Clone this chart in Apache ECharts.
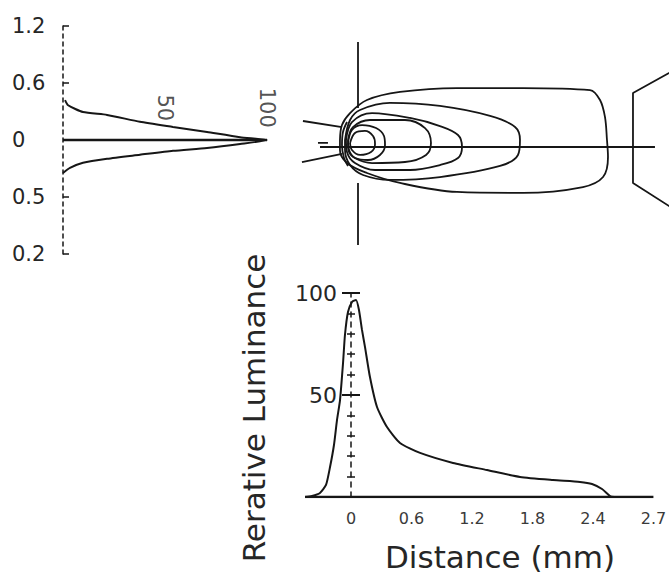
<!DOCTYPE html>
<html>
<head>
<meta charset="utf-8">
<script src="https://cdn.jsdelivr.net/npm/echarts@6/dist/echarts.min.js"></script>
<style>
  html, body { margin: 0; padding: 0; background: #fff; }
  #chart { width: 669px; height: 575px; }
</style>
</head>
<body>
<div id="chart"></div>
<script>
// ---- Vertical luminance profile (left panel): luminance vs. position ----
const profileTickLabels = ['0.2', '0.5', '0', '0.6', '1.2'];
const profileLum = [1, 2.5, 9.8, 21.6, 37.7, 53.9, 70.6, 86.8, 100, 86.8, 70.6, 53.9, 37.7, 21.6, 9.8, 3.4, 0];
const profilePos = [0.70, 0.61, 0.49, 0.44, 0.32, 0.23, 0.14, 0.05, 0, -0.07, -0.14, -0.19, -0.26, -0.33, -0.40, -0.49, -0.58];
const profileAxisLine = [[0, 0], [100, 0]];
const profileMarks = [50, 100];

// ---- Isoluminance contours (top-right panel), distance / offset in mm ----
const contourOuter = [[-0.179, 0.069], [-0.159, 0.218], [-0.079, 0.337], [0.089, 0.466], [0.417, 0.546], [0.982, 0.585], [1.637, 0.585], [2.302, 0.565], [2.401, 0.466], [2.450, 0.298], [2.470, 0.069], [2.480, -0.099], [2.431, -0.298], [2.232, -0.397], [1.637, -0.456], [0.982, -0.446], [0.417, -0.357], [0.089, -0.258], [-0.109, -0.159], [-0.179, -0.030], [-0.179, 0.069]];
const contour2 = [[-0.129, 0.069], [-0.079, 0.268], [0.020, 0.367], [0.317, 0.437], [0.813, 0.407], [1.310, 0.308], [1.558, 0.198], [1.607, 0.069], [1.587, -0.079], [1.409, -0.188], [0.813, -0.298], [0.317, -0.327], [0.050, -0.278], [-0.079, -0.179], [-0.129, -0.030], [-0.129, 0.069]];
const contour3 = [[-0.119, 0.069], [-0.060, 0.248], [0.139, 0.337], [0.516, 0.288], [0.813, 0.208], [0.992, 0.119], [1.032, 0], [0.992, -0.109], [0.813, -0.179], [0.516, -0.228], [0.169, -0.228], [-0.030, -0.159], [-0.109, -0.050], [-0.119, 0.069]];
const contour4 = [[-0.099, 0.069], [-0.050, 0.198], [0.119, 0.268], [0.466, 0.268], [0.665, 0.188], [0.724, 0.040], [0.675, -0.079], [0.466, -0.149], [0.139, -0.159], [-0.030, -0.109], [-0.089, -0.030], [-0.099, 0.069]];
const contour5 = [[-0.099, 0.040], [-0.060, 0.169], [0.040, 0.218], [0.179, 0.188], [0.258, 0.109], [0.268, 0.020], [0.218, -0.079], [0.099, -0.129], [-0.030, -0.109], [-0.089, -0.050], [-0.099, 0.040]];
const contour6 = [[-0.079, 0.040], [-0.030, 0.139], [0.069, 0.159], [0.149, 0.109], [0.169, 0.030], [0.129, -0.050], [0.020, -0.079], [-0.060, -0.030], [-0.079, 0.040]];
const contourEdge = [[-0.109, 0.248], [-0.149, 0.149], [-0.159, 0.020], [-0.139, -0.109], [-0.099, -0.188]];
const mainAxis = [[-0.377, 0], [2.946, 0]];
const crossUpper = [[0, 1.042], [0, 0.387]];
const crossLower = [[0, -0.357], [0, -0.972]];
const rayUpper = [[-0.546, 0.258], [-0.159, 0.198]];
const rayLower = [[-0.556, -0.149], [-0.159, -0.069]];
const rayShort = [[-0.397, 0.040], [-0.298, 0.040]];
const lampOutline = [[3.194, 0.794], [2.728, 0.536], [2.728, -0.357], [3.194, -0.655]];

// ---- Luminance along the axis (bottom panel) ----
const distance = [-0.456, -0.387, -0.308, -0.248, -0.208, -0.169, -0.139, -0.109, -0.079, -0.060, -0.030, 0.010, 0.050, 0.079, 0.109, 0.139, 0.188, 0.258, 0.357, 0.486, 0.685, 1.012, 1.349, 1.677, 2.004, 2.272, 2.391, 2.490, 2.569, 2.609];
const luminance = [0, 0.5, 2.0, 5.9, 14.7, 25.5, 37.7, 47.5, 65.7, 79.4, 90.7, 95.6, 96.6, 91.7, 81.9, 73.5, 58.8, 44.1, 34.3, 26.5, 21.6, 16.7, 13.2, 9.8, 8.3, 7.4, 6.4, 3.9, 0.5, 0];
const baseline = [[-0.456, 0], [3.0, 0]];
const distanceTicks = [0, 0.6, 1.2, 1.8, 2.4, 3.0];
const distanceTickLabels = ['0', '0.6', '1.2', '1.8', '2.4', '2.7'];

const INK = '#161616';
const TEXT = '#262626';
const FONT = 'DejaVu Sans';

// bottom panel: x range and where the luminance axis sits (at distance 0)
const BOTTOM_LEFT = 300.6;
const BOTTOM_WIDTH = 362.9;
const X_MIN = -0.5, X_MAX = 3.1;
const axisShift = -(0 - X_MIN) / (X_MAX - X_MIN) * BOTTOM_WIDTH;

const chart = echarts.init(document.getElementById('chart'), null, { renderer: 'svg' });

const pair = (xs, ys) => xs.map((x, i) => [x, ys[i]]);
const lineSeries = (data, xi, yi, width, smooth) => ({
  type: 'line', xAxisIndex: xi, yAxisIndex: yi, data: data,
  showSymbol: false, symbol: 'none', smooth: smooth || false, silent: true,
  lineStyle: { color: INK, width: width || 1.8 }
});

const contourShapes = [contourOuter, contour2, contour3, contour4, contour5, contour6, contourEdge];
const contourGuides = [mainAxis, crossUpper, crossLower, rayUpper, rayLower, rayShort, lampOutline];

chart.setOption({
  animation: false,
  backgroundColor: '#ffffff',
  grid: [
    { left: 63, top: 26, width: 204, height: 228, outerBoundsMode: 'none' },
    { left: 287.44, top: 36.12, width: 403.2, height: 211.68, outerBoundsMode: 'none' },
    { left: BOTTOM_LEFT, top: 293, width: BOTTOM_WIDTH, height: 204, outerBoundsMode: 'none' }
  ],
  xAxis: [
    { gridIndex: 0, type: 'value', min: 0, max: 100, show: false },
    { gridIndex: 1, type: 'value', min: -0.7, max: 3.3, show: false },
    {
      gridIndex: 2, type: 'value', min: X_MIN, max: X_MAX,
      axisLine: { show: false }, axisTick: { show: false }, splitLine: { show: false },
      axisLabel: {
        customValues: distanceTicks, margin: 13, color: '#3a3a3a',
        fontFamily: FONT, fontSize: 16, hideOverlap: false,
        formatter: v => distanceTickLabels[distanceTicks.findIndex(t => Math.abs(t - v) < 1e-6)] || ''
      }
    }
  ],
  yAxis: [
    {
      gridIndex: 0, type: 'value', min: -2, max: 2, interval: 1,
      axisLine: { show: true, onZero: false, lineStyle: { color: INK, width: 1.5, type: [4, 4] } },
      axisTick: { show: true, inside: true, length: 6, lineStyle: { color: INK, width: 1.5 } },
      splitLine: { show: false },
      axisLabel: {
        margin: 51, align: 'left', color: TEXT, fontFamily: FONT, fontSize: 21,
        formatter: v => profileTickLabels[Math.round(v) + 2]
      }
    },
    { gridIndex: 1, type: 'value', min: -1.0, max: 1.1, show: false },
    {
      gridIndex: 2, type: 'value', min: 0, max: 100, interval: 50, position: 'left', offset: axisShift,
      axisLine: { show: true, onZero: false, lineStyle: { color: INK, width: 1.5, type: [5, 5] } },
      axisTick: { show: true, length: 9, lineStyle: { color: INK, width: 2 } },
      minorTick: { show: true, splitNumber: 5, length: 4, lineStyle: { color: INK, width: 1.5 } },
      splitLine: { show: false },
      axisLabel: {
        margin: 14, color: TEXT, fontFamily: FONT, fontSize: 22,
        formatter: v => (v === 0 ? '' : String(v))
      }
    },
    {
      gridIndex: 2, type: 'value', min: 0, max: 100, interval: 50, position: 'left', offset: axisShift,
      axisLine: { show: false, onZero: false },
      axisTick: { show: true, inside: true, length: 9, lineStyle: { color: INK, width: 2 } },
      minorTick: { show: true, splitNumber: 5, length: 4, lineStyle: { color: INK, width: 1.5 } },
      axisLabel: { show: false }, splitLine: { show: false }
    }
  ],
  series: [
    lineSeries(pair(profileLum, profilePos), 0, 0, 2, 0.2),
    lineSeries(profileAxisLine, 0, 0, 2.6),
    {
      type: 'scatter', xAxisIndex: 0, yAxisIndex: 0, silent: true,
      symbolSize: 0,
      data: profileMarks.map(v => [v, 0.6]),
      label: {
        show: true, position: 'inside', rotate: -90, color: TEXT,
        fontFamily: FONT, fontSize: 21,
        formatter: p => String(p.value[0]),
        offset: [2, 0]
      }
    },
    ...contourShapes.map(c => lineSeries(c, 1, 1, 1.8, 0.35)),
    ...contourGuides.map(c => lineSeries(c, 1, 1, 1.8)),
    lineSeries(pair(distance, luminance), 2, 3, 2, 0.2),
    lineSeries(baseline, 2, 3, 2.4)
  ],
  graphic: [
    {
      type: 'text', x: 254, y: 408, rotation: Math.PI / 2, silent: true,
      style: { text: 'Rerative Luminance', fill: TEXT, font: '31px "DejaVu Sans"', align: 'center', verticalAlign: 'middle' }
    },
    {
      type: 'text', x: 500, y: 557, silent: true,
      style: { text: 'Distance (mm)', fill: TEXT, font: '31px "DejaVu Sans"', align: 'center', verticalAlign: 'middle' }
    }
  ]
});
</script>
</body>
</html>
